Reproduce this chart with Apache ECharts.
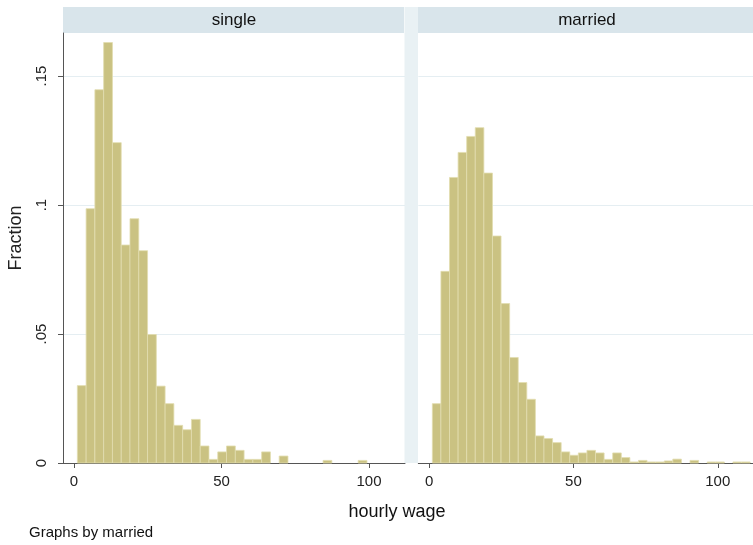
<!DOCTYPE html>
<html>
<head>
<meta charset="utf-8">
<title>hourly wage by married</title>
<script src="https://cdn.jsdelivr.net/npm/echarts@6.0.0/dist/echarts.min.js"></script>
<style>
  html, body { margin: 0; padding: 0; background: #fff; }
  #chart { width: 753px; height: 545px; }
</style>
</head>
<body>
<div id="chart"></div>
<script>
  // histogram bins for hourly wage (same bins in both panels)
  const binStart = 1.13;
  const binWidth = 2.975;

  // fraction of observations in each bin
  const singleFractions = [
    0.030, 0.0986, 0.1447, 0.163, 0.1242, 0.0845, 0.0947, 0.0823, 0.0498, 0.0298,
    0.023, 0.0146, 0.0129, 0.0169, 0.0066, 0.0014, 0.0043, 0.0066, 0.0049, 0.0014,
    0.0014, 0.0043, 0, 0.0027, 0, 0, 0, 0, 0.001, 0,
    0, 0, 0.001,
  ];
  const marriedFractions = [
    0.023, 0.0743, 0.1107, 0.1204, 0.1266, 0.130, 0.1124, 0.088, 0.0618, 0.0409,
    0.0312, 0.0247, 0.0105, 0.0095, 0.0079, 0.0043, 0.003, 0.0039, 0.0049, 0.0039,
    0.0014, 0.0039, 0.0021, 0.0004, 0.001, 0.0004, 0.0004, 0.0008, 0.0015, 0,
    0.001, 0, 0.0004, 0.0004, 0, 0.0004, 0.0004,
  ];

  const panelNames = ['single', 'married'];
  const xTicks = [0, 50, 100];
  const yTicks = [0, 0.05, 0.1, 0.15];
  const yTickLabels = ['0', '.05', '.1', '.15'];

  const FONT = "'Liberation Sans', Arial, Helvetica, sans-serif";
  const barColor = '#cac282';
  const barEdge = '#e2ddb0';
  const axisColor = '#555';
  const gridColor = '#e5eef2';

  const toBins = (fractions) =>
    fractions
      .map((f, i) => [binStart + i * binWidth, binStart + (i + 1) * binWidth, f])
      .filter((d) => d[2] > 0);

  const renderBar = (params, api) => {
    const top = api.coord([api.value(0), api.value(2)]);
    const base = api.coord([api.value(1), 0]);
    return {
      type: 'rect',
      shape: { x: top[0], y: top[1], width: base[0] - top[0], height: base[1] - top[1] },
      style: { fill: barColor, stroke: barEdge, lineWidth: 0.8 },
    };
  };

  const chart = echarts.init(document.getElementById('chart'));

  const xAxisFor = (i) => ({
    type: 'value',
    gridIndex: i,
    min: -3.73,
    max: 112.2,
    axisLine: { show: true, onZero: false, lineStyle: { color: axisColor, width: 1 } },
    axisTick: { show: true, customValues: xTicks, length: 5, lineStyle: { color: axisColor } },
    axisLabel: {
      customValues: xTicks,
      fontSize: 15,
      fontFamily: FONT,
      color: '#222',
      margin: 11,
    },
    splitLine: { show: false },
  });

  const yAxisFor = (i) => ({
    type: 'value',
    gridIndex: i,
    min: 0,
    max: 0.1667,
    interval: 0.05,
    axisLine: { show: i === 0, onZero: false, lineStyle: { color: axisColor, width: 1 } },
    axisTick: { show: i === 0, customValues: yTicks, length: 5, lineStyle: { color: axisColor } },
    axisLabel: {
      show: i === 0,
      customValues: yTicks,
      rotate: 90,
      fontSize: 15,
      fontFamily: FONT,
      color: '#222',
      margin: 14,
      formatter: (v) => {
        const k = yTicks.findIndex((t) => Math.abs(t - v) < 1e-9);
        return k >= 0 ? yTickLabels[k] : '';
      },
    },
    splitLine: { show: true, lineStyle: { color: gridColor, width: 1 } },
    name: i === 0 ? 'Fraction' : '',
    nameLocation: 'middle',
    nameGap: 38,
    nameMoveOverlap: false,
    nameRotate: 90,
    nameTextStyle: { fontSize: 18, fontFamily: FONT, color: '#222', padding: [0, 0, 0, 20] },
  });

  const option = {
    backgroundColor: '#fff',
    animation: false,
    grid: [
      { left: 63, top: 33, width: 342, height: 430 },
      { left: 418.3, top: 33, width: 342, height: 430 },
    ],
    xAxis: [xAxisFor(0), xAxisFor(1)],
    yAxis: [yAxisFor(0), yAxisFor(1)],
    graphic: [
      // panel header bands and the strip between panels
      { type: 'rect', shape: { x: 63, y: 7, width: 341, height: 26 }, style: { fill: '#d9e5eb' } },
      { type: 'rect', shape: { x: 418, y: 7, width: 340, height: 26 }, style: { fill: '#d9e5eb' } },
      { type: 'rect', shape: { x: 404.5, y: 7, width: 13.5, height: 456 }, style: { fill: '#e9f1f4' } },
      {
        type: 'text', x: 234, y: 20,
        style: { text: panelNames[0], font: '17px ' + FONT, fill: '#111', align: 'center', verticalAlign: 'middle' },
      },
      {
        type: 'text', x: 587, y: 20,
        style: { text: panelNames[1], font: '17px ' + FONT, fill: '#111', align: 'center', verticalAlign: 'middle' },
      },
      {
        type: 'text', x: 397, y: 512,
        style: { text: 'hourly wage', font: '18px ' + FONT, fill: '#111', align: 'center', verticalAlign: 'middle' },
      },
      {
        type: 'text', x: 29, y: 533,
        style: { text: 'Graphs by married', font: '15px ' + FONT, fill: '#111', align: 'left', verticalAlign: 'middle' },
      },
    ],
    series: [
      {
        name: panelNames[0],
        type: 'custom',
        xAxisIndex: 0,
        yAxisIndex: 0,
        renderItem: renderBar,
        encode: { x: [0, 1], y: 2 },
        data: toBins(singleFractions),
      },
      {
        name: panelNames[1],
        type: 'custom',
        xAxisIndex: 1,
        yAxisIndex: 1,
        renderItem: renderBar,
        encode: { x: [0, 1], y: 2 },
        data: toBins(marriedFractions),
      },
    ],
  };

  chart.setOption(option);
</script>
</body>
</html>
